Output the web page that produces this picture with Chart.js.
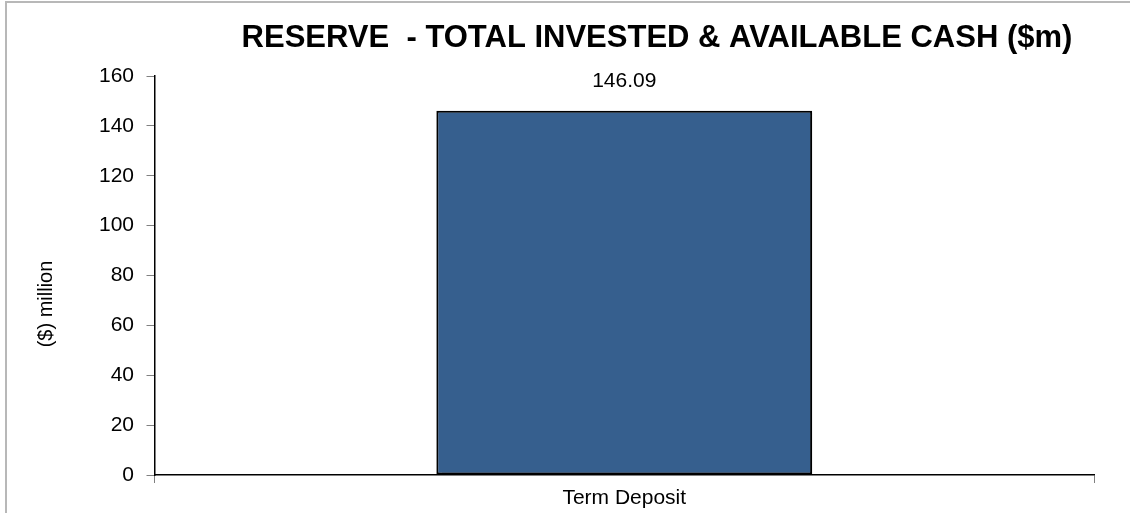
<!DOCTYPE html>
<html>
<head>
<meta charset="utf-8">
<script src="https://cdn.jsdelivr.net/npm/chart.js@4/dist/chart.umd.min.js"></script>
<style>
  html, body { margin: 0; padding: 0; background: #fff; }
  #wrap { position: relative; width: 1130px; height: 513px; }
</style>
</head>
<body>
<div id="wrap"><canvas id="c" width="1130" height="513"></canvas></div>
<script>
const categories = ["Term Deposit"];
const values = [146.09];
const valueLabels = ["146.09"];
const yTicks = [0, 20, 40, 60, 80, 100, 120, 140, 160];
const chartTitle = "RESERVE  - TOTAL INVESTED & AVAILABLE CASH ($m)";
const yTitle = "($) million";

const FONT = "'Liberation Sans', Arial, sans-serif";

const decor = {
  id: 'decor',
  beforeDraw(chart) {
    const ctx = chart.ctx;
    ctx.save();
    ctx.strokeStyle = '#b8b8b8';
    ctx.lineWidth = 2;
    ctx.strokeRect(6, 2, 1140, 530);
    ctx.restore();
  },
  beforeDatasetDraw(chart) {
    const ctx = chart.ctx;
    ctx.save();
    ctx.shadowColor = 'rgba(0,0,0,0.35)';
    ctx.shadowOffsetX = 2;
    ctx.shadowOffsetY = 2;
    ctx.shadowBlur = 1;
  },
  afterDatasetDraw(chart) {
    chart.ctx.restore();
  },
  afterDraw(chart) {
    const ctx = chart.ctx;
    ctx.save();
    // title
    ctx.fillStyle = '#000';
    ctx.font = 'bold 31px ' + FONT;
    ctx.textAlign = 'center';
    ctx.textBaseline = 'alphabetic';
    ctx.fillText(chartTitle, 657, 47);
    // y title
    ctx.font = '20px ' + FONT;
    ctx.textBaseline = 'middle';
    ctx.translate(46, 304);
    ctx.rotate(-Math.PI / 2);
    ctx.fillText(yTitle, 0, 0);
    ctx.restore();
    // value labels
    ctx.save();
    ctx.fillStyle = '#000';
    ctx.font = '21px ' + FONT;
    ctx.textAlign = 'center';
    ctx.textBaseline = 'alphabetic';
    const meta = chart.getDatasetMeta(0);
    meta.data.forEach((el, i) => {
      ctx.fillText(valueLabels[i], el.x, el.y - 24);
    });
    ctx.restore();
  }
};

new Chart(document.getElementById('c'), {
  type: 'bar',
  data: {
    labels: categories,
    datasets: [{
      data: values,
      backgroundColor: '#365F8E',
      borderColor: '#000000',
      borderWidth: 2,
      borderSkipped: false,
      barPercentage: 0.4,
      categoryPercentage: 1.0
    }]
  },
  options: {
    responsive: false,
    animation: false,
    devicePixelRatio: 1,
    layout: { padding: { top: 76, right: 36, left: 0, bottom: 0 } },
    plugins: {
      legend: { display: false },
      title: { display: false },
      tooltip: { enabled: false }
    },
    scales: {
      x: {
        offset: true,
        grid: { display: true, drawOnChartArea: false, tickLength: 8, tickColor: '#808080', offset: true },
        border: { display: true, color: '#000', width: 1.5 },
        ticks: { color: '#000', font: { family: FONT, size: 21 }, padding: 3 },
        afterFit(scale) { scale.height = 38; }
      },
      y: {
        min: 0,
        max: 160,
        afterBuildTicks(scale) { scale.ticks = yTicks.map(v => ({ value: v })); },
        grid: { display: true, drawOnChartArea: false, tickLength: 8, tickColor: '#808080' },
        border: { display: true, color: '#000', width: 1.5 },
        ticks: { color: '#000', font: { family: FONT, size: 21 }, padding: 12.5 },
        afterFit(scale) { scale.width = 154.5; }
      }
    }
  },
  plugins: [decor]
});
</script>
</body>
</html>
